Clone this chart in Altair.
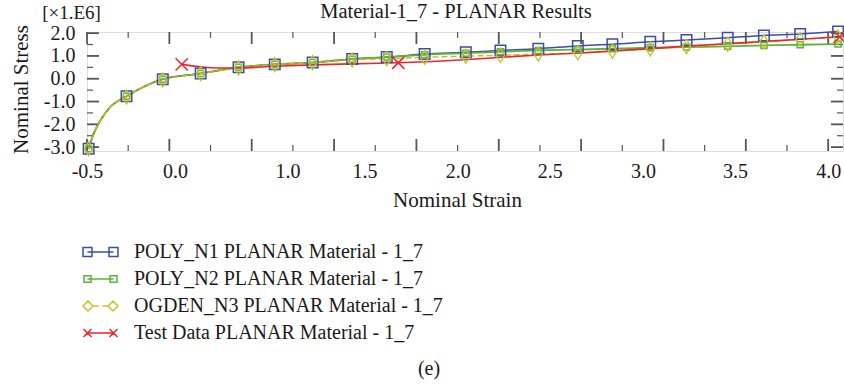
import altair as alt
import pandas as pd

FONT = "Liberation Serif"
INK = "#1a1a1a"

SERIES = [
    "POLY_N1 PLANAR Material - 1_7",
    "POLY_N2 PLANAR Material - 1_7",
    "OGDEN_N3 PLANAR Material - 1_7",
    "Test Data PLANAR Material - 1_7",
]
COLORS = ["#3d4ca6", "#5bb33a", "#c8c22a", "#e8262b"]

# model curves, values read at the marker positions (stress in 1e6)
MARK_X = [-0.49, -0.26, -0.04, 0.19, 0.42, 0.64, 0.87, 1.11, 1.32, 1.55, 1.80,
          2.01, 2.24, 2.48, 2.69, 2.92, 3.14, 3.39, 3.61, 3.83, 4.06]
POLY1_Y = [-3.07, -0.77, -0.02, 0.23, 0.50, 0.63, 0.71, 0.87, 0.95, 1.08, 1.16,
           1.24, 1.32, 1.44, 1.51, 1.62, 1.70, 1.80, 1.90, 1.96, 2.07]
POLY2_Y = [-3.07, -0.77, -0.02, 0.23, 0.50, 0.63, 0.71, 0.86, 0.95, 1.05, 1.12,
           1.18, 1.24, 1.28, 1.32, 1.36, 1.39, 1.42, 1.46, 1.49, 1.52]
OGDEN_Y = [-3.07, -0.80, -0.05, 0.22, 0.48, 0.62, 0.71, 0.82, 0.88, 0.94, 0.99,
           1.03, 1.08, 1.13, 1.21, 1.31, 1.41, 1.52, 1.62, 1.72, 1.82]
# extra points of the steep compression branch (shared by the three models)
STEEP_X = [-0.46, -0.42, -0.36, -0.16]
STEEP_Y = [-2.42, -1.84, -1.25, -0.37]

# test data
TEST_X = [0.075, 0.18, 0.30, 0.42, 0.64, 0.87, 1.10, 1.39, 1.79, 2.02, 2.24,
          2.47, 2.70, 2.92, 3.16, 3.39, 3.62, 3.83, 4.07]
TEST_Y = [0.63, 0.53, 0.47, 0.47, 0.55, 0.61, 0.65, 0.70, 0.83, 0.94, 1.04,
          1.12, 1.22, 1.32, 1.44, 1.54, 1.64, 1.73, 1.84]
TEST_MARK_IDX = [0, 7, 18]

# axis text
X_LABEL_POS = [-0.5, 0.035, 0.717, 1.185, 1.751, 2.310, 2.876, 3.435, 4.001]
X_LABELS = ["-0.5", "0.0", "1.0", "1.5", "2.0", "2.5", "3.0", "3.5", "4.0"]
Y_TICKS = [2.0, 1.0, 0.0, -1.0, -2.0, -3.0]
X_MAJOR = [-0.5, 0.0, 0.5, 1.0, 1.5, 2.0, 2.5, 3.0, 3.5, 4.0]
X_MINOR = [-0.25, 0.25, 0.75, 1.25, 1.75, 2.25, 2.75, 3.25, 3.75]
Y_MAJOR = [2.0, 1.0, 0.0, -1.0, -2.0, -3.0]
Y_MINOR = [1.5, 0.5, -0.5, -1.5, -2.5]

TITLE = "Material-1_7 - PLANAR Results"
UNIT = "[×1.E6]"
CAPTION = "(e)"

W, H = 756, 119

LEGEND_PATHS = [
    "M-1.75,-0.45H-0.85V0.45H-1.75Z M0.85,-0.45H1.75V0.45H0.85Z M-1.3,0H1.3",
    "M-1.65,-0.33H-0.95V0.33H-1.65Z M0.95,-0.33H1.65V0.33H0.95Z M-1.3,0H1.3",
    "M-1.75,0L-1.25,-0.5L-0.75,0L-1.25,0.5Z M0.75,0L1.25,-0.5L1.75,0L1.25,0.5Z M-0.75,0H-0.15 M0.2,0H0.75",
    "M-1.7,-0.4L-0.9,0.4M-1.7,0.4L-0.9,-0.4 M0.9,-0.4L1.7,0.4M0.9,0.4L1.7,-0.4 M-1.3,0H1.3",
]

x_labels_js = "[" + ",".join("'%s'" % s for s in X_LABELS) + "]"
x_pos_js = "[" + ",".join(str(v) for v in X_LABEL_POS) + "]"

x_scale = alt.Scale(domain=[-0.5, 4.09], nice=False, zero=False)
y_scale = alt.Scale(domain=[-3.17, 2.05], nice=False, zero=False)

x_axis = alt.Axis(
    values=X_LABEL_POS,
    labelExpr=f"{x_labels_js}[indexof({x_pos_js}, datum.value)]",
    ticks=False, tickSize=0, domain=False, grid=False,
    labelPadding=20, labelBaseline="middle", labelFontSize=20, labelFont=FONT, labelColor=INK,
    labelFlush=False, labelOverlap=False,
    title="Nominal Strain", titleX=370, titleY=49, titleBaseline="middle",
    titleAlign="center", titleFontSize=21, titleFontWeight="normal", titleFont=FONT, titleColor=INK,
)
y_axis = alt.Axis(
    values=Y_TICKS,
    labelExpr="datum.value < 0 ? '-' + format(-datum.value, '.1f') : format(datum.value, '.1f')",
    ticks=False, tickSize=0, domain=False, grid=False,
    labelPadding=12, labelFontSize=20, labelFont=FONT, labelColor=INK,
    labelFlush=False, labelOverlap=False,
    title="Nominal Stress", titleX=-66, titleY=57, titleBaseline="middle",
    titleAlign="center", titleAngle=270, titleFontSize=21, titleFontWeight="normal",
    titleFont=FONT, titleColor=INK,
)

X = alt.X("x:Q", scale=x_scale, axis=x_axis)
Y = alt.Y("y:Q", scale=y_scale, axis=y_axis)


def model_df(ys):
    pts = sorted(zip(MARK_X + STEEP_X, ys + STEEP_Y))
    return pd.DataFrame({"x": [p[0] for p in pts], "y": [p[1] for p in pts]})


layers = []

# tick marks (inward, on all four sides)
xmaj = pd.DataFrame({"x": X_MAJOR})
xmin = pd.DataFrame({"x": X_MINOR})
ymaj = pd.DataFrame({"y": Y_MAJOR})
ymin = pd.DataFrame({"y": Y_MINOR})
TC = "#555555"
for df, ln, sw in [(xmaj, 12, 1.8), (xmin, 6, 1.2)]:
    layers.append(alt.Chart(df).mark_rule(color=TC, strokeWidth=sw).encode(
        x=X, y=alt.value(H), y2=alt.value(H - ln)))
    layers.append(alt.Chart(df).mark_rule(color=TC, strokeWidth=sw).encode(
        x=X, y=alt.value(0), y2=alt.value(ln)))
for df, ln, sw in [(ymaj, 12, 1.8), (ymin, 6, 1.2)]:
    layers.append(alt.Chart(df).mark_rule(color=TC, strokeWidth=sw).encode(
        y=Y, x=alt.value(0), x2=alt.value(ln)))
    layers.append(alt.Chart(df).mark_rule(color=TC, strokeWidth=sw).encode(
        y=Y, x=alt.value(W), x2=alt.value(W - ln)))

# curves
d1 = model_df(POLY1_Y)
d2 = model_df(POLY2_Y)
d3 = model_df(OGDEN_Y)
dt = pd.DataFrame({"x": TEST_X, "y": TEST_Y})

layers.append(alt.Chart(d1).mark_line(color=COLORS[0], strokeWidth=1.5, interpolate="monotone").encode(
    x=X, y=Y, order="x:Q"))
layers.append(alt.Chart(d2).mark_line(color=COLORS[1], strokeWidth=1.8, interpolate="monotone").encode(
    x=X, y=Y, order="x:Q"))
layers.append(alt.Chart(d3).mark_line(color="#d9b21c", strokeWidth=1.4, strokeDash=[6, 3],
                                      interpolate="monotone").encode(x=X, y=Y, order="x:Q"))
layers.append(alt.Chart(dt).mark_line(color=COLORS[3], strokeWidth=1.6, interpolate="monotone").encode(
    x=X, y=Y, order="x:Q"))

# markers
m1 = pd.DataFrame({"x": MARK_X, "y": POLY1_Y})
m2 = pd.DataFrame({"x": MARK_X, "y": POLY2_Y})
m3 = pd.DataFrame({"x": MARK_X, "y": OGDEN_Y})
mt = pd.DataFrame({"x": [TEST_X[i] for i in TEST_MARK_IDX], "y": [TEST_Y[i] for i in TEST_MARK_IDX]})

layers.append(alt.Chart(m1).mark_point(shape="square", size=110, color=COLORS[0], strokeWidth=1.5,
                                       filled=False, opacity=1).encode(x=X, y=Y))
layers.append(alt.Chart(m2).mark_point(shape="square", size=36, color=COLORS[1], strokeWidth=1.5,
                                       filled=False, opacity=1).encode(x=X, y=Y))
layers.append(alt.Chart(m3).mark_point(shape="M0,-1L0.6,0L0,1L-0.6,0Z", size=200, color=COLORS[2],
                                       strokeWidth=1.3, filled=False, opacity=1).encode(x=X, y=Y))
layers.append(alt.Chart(mt).mark_point(shape="M-1,-1L1,1M-1,1L1,-1", size=150, color=COLORS[3],
                                       strokeWidth=1.5, filled=False, opacity=1).encode(x=X, y=Y))

# legend (driven by an invisible point layer)
leg_df = pd.DataFrame({"x": [MARK_X[0]] * 4, "y": [POLY1_Y[0]] * 4, "series": SERIES})
leg = alt.Legend(orient="none", legendX=2.5, legendY=209, title=None, labelFont=FONT,
                 labelFontSize=20, labelColor=INK, symbolSize=400, symbolStrokeWidth=1.5,
                 labelOffset=22.5, rowPadding=6, symbolOpacity=1, labelLimit=0)
layers.append(alt.Chart(leg_df).mark_point(opacity=0, filled=False).encode(
    x=X, y=Y,
    color=alt.Color("series:N", scale=alt.Scale(domain=SERIES, range=COLORS), legend=leg),
    shape=alt.Shape("series:N", scale=alt.Scale(domain=SERIES, range=LEGEND_PATHS), legend=leg),
))

# annotations: title, unit label and caption
def note(txt, px, py, size, baseline="middle"):
    return alt.Chart(pd.DataFrame({"t": [txt]})).mark_text(
        font=FONT, fontSize=size, color=INK, align="center", baseline=baseline).encode(
        text="t:N", x=alt.value(px), y=alt.value(py))

layers.append(note(TITLE, 369, -14, 20.5, "alphabetic"))
layers.append(note(UNIT, -15.5, -19.5, 19))
layers.append(note(CAPTION, 342, 337, 20))

chart = alt.layer(*layers).properties(
    width=W, height=H,
    autosize=alt.AutoSizeParams(type="none"),
    padding={"left": 87, "top": 32, "right": 1, "bottom": 234},
).configure_view(stroke="#333333", strokeWidth=1.5).configure_axis(
    labelFont=FONT, titleFont=FONT, labelColor=INK, titleColor=INK
).configure(background="white")

chart.save("out.html", embed_options={"renderer": "svg", "actions": False})
